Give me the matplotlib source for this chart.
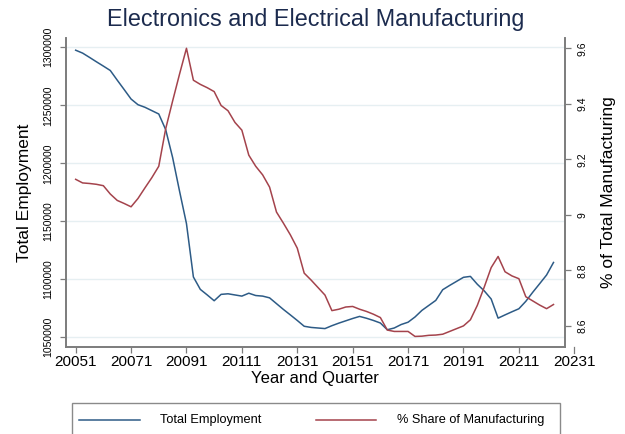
import numpy as np
import matplotlib
matplotlib.use("Agg")
import matplotlib.pyplot as plt
import matplotlib.transforms as mtransforms
from matplotlib.lines import Line2D
from matplotlib.patches import Rectangle

plt.rcParams['font.family'] = ['Liberation Sans', 'DejaVu Sans']

# quarterly series, 2005q1 .. 2022q2
quarters = [f"{y}{q}" for y in range(2005, 2023) for q in range(1, 5)][:70]

employment = [
    1297500, 1295000, 1291300, 1287500, 1283800, 1280000, 1271700, 1263600,
    1255400, 1250500, 1248300, 1245400, 1242500, 1229000, 1205000, 1176000,
    1148000, 1102000, 1091300, 1086500, 1081500, 1087000, 1087500, 1086500,
    1085500, 1088000, 1086000, 1085500, 1084000, 1079000, 1074000, 1069300,
    1064500, 1059500, 1058500, 1058000, 1057500, 1060000, 1062200, 1064200,
    1066200, 1068000, 1066400, 1064500, 1062300, 1056500, 1058000, 1061000,
    1063000, 1067500, 1073200, 1077500, 1081800, 1091000, 1094700, 1098200,
    1101700, 1102500, 1095700, 1090000, 1083000, 1066500, 1069300, 1072000,
    1074600, 1081000, 1088800, 1096200, 1103700, 1114500,
]

share = [
    9.128, 9.115, 9.113, 9.110, 9.105, 9.075, 9.052, 9.041,
    9.029, 9.059, 9.097, 9.134, 9.175, 9.310, 9.410, 9.507,
    9.600, 9.485, 9.470, 9.458, 9.444, 9.394, 9.375, 9.333,
    9.305, 9.215, 9.175, 9.144, 9.100, 9.010, 8.970, 8.928,
    8.880, 8.790, 8.765, 8.738, 8.711, 8.655, 8.660, 8.668,
    8.670, 8.660, 8.652, 8.642, 8.630, 8.585, 8.580, 8.580,
    8.580, 8.562, 8.563, 8.566, 8.567, 8.570, 8.580, 8.590,
    8.600, 8.622, 8.674, 8.740, 8.810, 8.850, 8.795, 8.780,
    8.770, 8.705, 8.690, 8.675, 8.662, 8.677,
]

tick_labels = ["20051", "20071", "20091", "20111", "20131",
               "20151", "20171", "20191", "20211", "20231"]

blue = '#2d5b86'
red = '#a4434c'
spine_col = '#7c7c7c'

t = np.arange(len(employment))

fig = plt.figure(figsize=(6.25, 4.34), dpi=100)
ax = fig.add_axes([0.1051, 0.2005, 0.7989, 0.7119])
ax2 = ax.twinx()

ax.plot(t, employment, color=blue, lw=1.1, zorder=3)
ax2.plot(t, share, color=red, lw=1.1, zorder=3)

ax.set_xlim(-1.44, 70.66)
ax.set_ylim(1041640, 1308000)
ax2.set_ylim(8.524, 9.637)

ax.set_yticks([1050000, 1100000, 1150000, 1200000, 1250000, 1300000])
ax.set_yticklabels([str(v) for v in [1050000, 1100000, 1150000, 1200000, 1250000, 1300000]],
                   rotation=90, va='center', fontsize=7.5)
ax2.set_yticks([8.6, 8.8, 9.0, 9.2, 9.4, 9.6])
ax2.set_yticklabels(["8.6", "8.8", "9", "9.2", "9.4", "9.6"],
                    rotation=90, va='center', fontsize=7.5)
ax.grid(axis='y', color='#e6eff2', lw=1.0)
ax.set_axisbelow(True)

ax.set_xticks(np.arange(0, 72, 8))
ax.set_xticklabels(tick_labels[:-1], fontsize=11)
ax.tick_params(axis='x', length=4, width=0.9, color=spine_col, pad=2)
ax.tick_params(axis='y', length=4, width=0.9, color=spine_col, pad=5)
ax2.tick_params(axis='y', length=4, width=0.9, color=spine_col, pad=5)

# last tick (20231) lies beyond the plot region
trans = mtransforms.blended_transform_factory(ax.transData, ax.transAxes)
ax.add_line(Line2D([72, 72], [0, -0.018], transform=trans, color=spine_col,
                   lw=0.9, clip_on=False))
ax.text(72, 0, tick_labels[-1], ha='center', va='top', fontsize=11,
        transform=trans + mtransforms.ScaledTranslation(0, -6 / 72, fig.dpi_scale_trans))

for a in (ax, ax2):
    a.spines['top'].set_visible(False)
    for s in ('left', 'right', 'bottom'):
        a.spines[s].set_color(spine_col)
        a.spines[s].set_linewidth(1.2)

ax.set_xlabel("Year and Quarter", fontsize=12, labelpad=1)
ax.set_ylabel("Total Employment", fontsize=12.5, labelpad=8)
ax2.set_ylabel("% of Total Manufacturing", fontsize=12.5, labelpad=10)
ax.set_title("Electronics and Electrical Manufacturing", fontsize=16.8,
             color='#1c2b4e', pad=9)

# legend box (runs off the bottom edge)
fig.patches.append(Rectangle((72 / 625, -0.05), 488 / 625, 0.05 + 31 / 434,
                             transform=fig.transFigure, fill=False,
                             edgecolor='#8a8a8a', lw=1.0))
ly = 1 - 420 / 434
fig.add_artist(Line2D([79 / 625, 140 / 625], [ly, ly], color=blue, lw=1.1))
fig.text(160 / 625, ly, "Total Employment", fontsize=9.2, va='center')
fig.add_artist(Line2D([316 / 625, 376 / 625], [ly, ly], color=red, lw=1.1))
fig.text(397 / 625, ly, "% Share of Manufacturing", fontsize=9.2, va='center')

fig.savefig("out.png", dpi=100)
